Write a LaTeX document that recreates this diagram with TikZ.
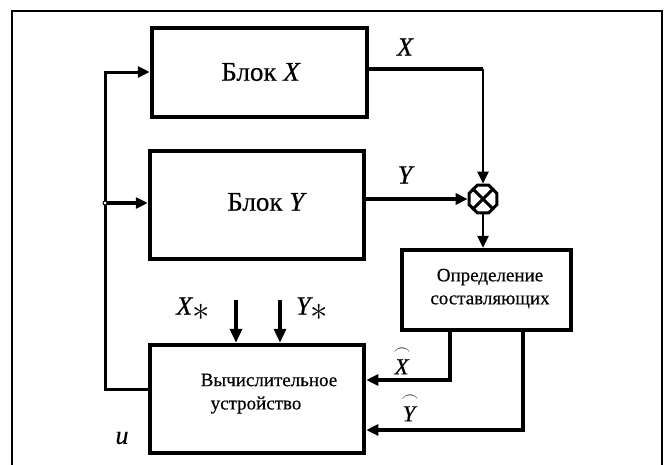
\documentclass[tikz,border=0pt]{standalone}
\usepackage{amsmath}
\usepackage{graphicx}
\usepackage{fontspec}
\setmainfont{Liberation Serif}[RawFeature={embolden=0.4}]
\usetikzlibrary{arrows.meta,shapes.geometric}
\begin{document}
\begin{tikzpicture}[x=1pt,y=-1pt,
  box/.style={draw,line width=4.5pt,inner sep=0pt},
  tip/.style={-{Triangle[length=12pt,width=11pt]}},
  bigtip/.style={-{Triangle[length=14pt,width=12pt]}},
  lbl/.style={font=\fontsize{26}{28}\selectfont\itshape,inner sep=0pt},
  hlbl/.style={font=\fontsize{23}{24}\selectfont,inner sep=0pt},
  btxt/.style={font=\fontsize{27}{30}\selectfont,inner sep=0pt},
  stxt/.style={font=\fontsize{19}{23}\selectfont,inner sep=0pt,align=center}
]
\useasboundingbox (0,0) rectangle (667,464);
\draw[line width=2pt] (12,470) -- (12,11) -- (662,11) -- (662,470);

% boxes
\node[box,minimum width=215pt,minimum height=89pt] (bx) at (259.5,72.5) {};
\node[box,minimum width=214pt,minimum height=108pt] (by) at (257,205) {};
\node[box,minimum width=214pt,minimum height=108pt] (comp) at (257,399) {};
\node[box,minimum width=169pt,minimum height=80pt] (det) at (486.5,290) {};
\node[draw,regular polygon,regular polygon sides=8,minimum size=30pt,line width=3pt,inner sep=0pt] (m) at (483,199) {};
\draw[line width=3pt] (m.45) -- (m.225) (m.135) -- (m.315);

% texts
\node[btxt] (tbx) at (261,72) {Блок \textit{X}};
\node[btxt] (tby) at (267,202) {Блок \textit{Y}};
\node[stxt] (tc1) at (269,380) {Вычислительное};
\node[stxt] (tc2) at (256,405) {устройство};
\node[stxt] (tdet) at (490,288.5) {Определение\\составляющих};

% connectors
\coordinate (xc) at (483,69);
\draw[line width=4pt] (bx.east |- xc) -- (xc);
\draw[line width=2.5pt,tip] (xc) -- (m.north);
\draw[line width=3.5pt,tip] (by.east |- m.west) -- (m.west);
\draw[line width=2.5pt,tip] (m.south) -- (m.south |- det.north);

\coordinate (d1) at (450,380);
\coordinate (d2) at (523,430);
\draw[line width=4pt,tip] (d1 |- det.south) -- (d1) -- (d1 -| comp.east);
\draw[line width=4pt,tip] (d2 |- det.south) -- (d2) -- (d2 -| comp.east);

\coordinate (fb) at (105,389);
\coordinate (ft) at (105,72);
\coordinate (fm) at (105,203);
\draw[line width=3pt,tip] (comp.west |- fb) -- (fb) -- (ft) -- (ft -| bx.west);
\draw[line width=4pt,tip] (fm) -- (fm -| by.west);
\draw[fill=white,line width=1pt] (fm) circle (2pt);

\coordinate (xs) at (236,300);
\coordinate (ys) at (280,300);
\draw[line width=4pt,bigtip] (xs) -- (xs |- comp.north);
\draw[line width=4pt,bigtip] (ys) -- (ys |- comp.north);

% labels
\node[lbl] (lx) at (405,47) {X};
\node[lbl] (ly) at (405,175) {Y};
\node[lbl] (lxs) at (193,309) {X\raisebox{-6pt}{\scalebox{1.4}{$\ast$}}};
\node[lbl] (lys) at (312,309) {Y\raisebox{-6pt}{\scalebox{1.4}{$\ast$}}};
\node[lbl] (lu) at (122,438) {u};
\node[hlbl] (lxh) at (402,360) {$\overset{\frown}{\mbox{\textit{X}}}$};
\node[hlbl] (lyh) at (410,407) {$\overset{\frown}{\mbox{\textit{Y}}}$};
\end{tikzpicture}
\end{document}
